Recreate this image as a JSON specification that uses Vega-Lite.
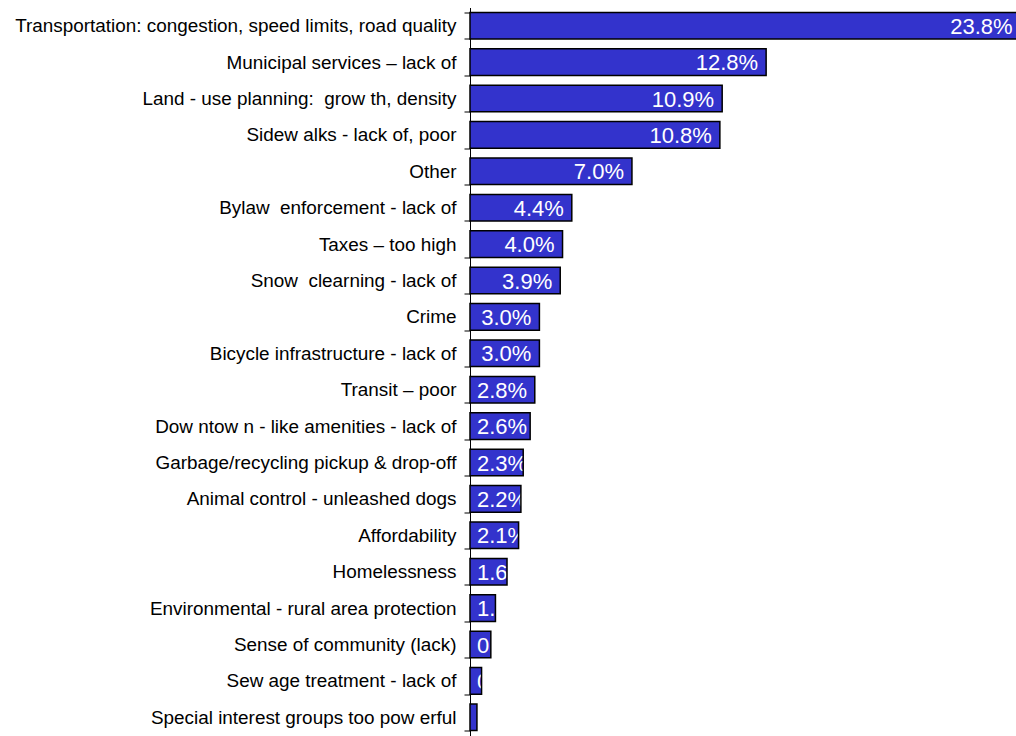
{
  "$schema": "https://vega.github.io/schema/vega-lite/v6.json",
  "autosize": {"type": "none"},
  "padding": {"left": 470, "top": 7.5, "right": 0, "bottom": 0},
  "width": 546,
  "height": 728,
  "background": "white",
  "config": {
    "view": {"stroke": null},
    "font": "Liberation Sans"
  },
  "data": {
    "values": [
      {"issue": "Transportation: congestion, speed limits, road quality", "pct": 0.238},
      {"issue": "Municipal services – lack of", "pct": 0.128},
      {"issue": "Land - use planning: \u00a0grow th, density", "pct": 0.109},
      {"issue": "Sidew alks - lack of, poor", "pct": 0.108},
      {"issue": "Other", "pct": 0.070},
      {"issue": "Bylaw \u00a0enforcement - lack of", "pct": 0.044},
      {"issue": "Taxes – too high", "pct": 0.040},
      {"issue": "Snow \u00a0clearning - lack of", "pct": 0.039},
      {"issue": "Crime", "pct": 0.030},
      {"issue": "Bicycle infrastructure - lack of", "pct": 0.030},
      {"issue": "Transit – poor", "pct": 0.028},
      {"issue": "Dow ntow n - like amenities - lack of", "pct": 0.026},
      {"issue": "Garbage/recycling pickup & drop-off", "pct": 0.023},
      {"issue": "Animal control - unleashed dogs", "pct": 0.022},
      {"issue": "Affordability", "pct": 0.021},
      {"issue": "Homelessness", "pct": 0.016},
      {"issue": "Environmental - rural area protection", "pct": 0.011},
      {"issue": "Sense of community (lack)", "pct": 0.009},
      {"issue": "Sew age treatment - lack of", "pct": 0.005},
      {"issue": "Special interest groups too pow erful", "pct": 0.003}
    ]
  },
  "encoding": {
    "y": {
      "field": "issue",
      "type": "nominal",
      "sort": null,
      "title": null,
      "scale": {"paddingInner": 0.27, "paddingOuter": 0.135},
      "axis": {
        "labelFont": "Liberation Sans",
        "labelFontSize": 18.9,
        "labelColor": "black",
        "labelPadding": 8,
        "labelLimit": 0,
        "tickBand": "extent",
        "tickSize": 6,
        "tickColor": "black",
        "domainColor": "black",
        "domainWidth": 1,
        "grid": false
      }
    },
    "x": {
      "field": "pct",
      "type": "quantitative",
      "scale": {"domain": [0, 0.236], "nice": false},
      "axis": null
    }
  },
  "layer": [
    {
      "mark": {"type": "bar", "fill": "#3333CC", "strokeWidth": 0}
    },
    {
      "transform": [{"filter": "datum.pct >= 0.029"}],
      "mark": {
        "type": "text",
        "align": "right",
        "baseline": "middle",
        "dx": -8,
        "dy": 1,
        "fontSize": 22,
        "color": "white"
      },
      "encoding": {
        "text": {"field": "pct", "type": "quantitative", "format": ".1%"}
      }
    },
    {
      "transform": [{"filter": "datum.pct < 0.029"}],
      "mark": {
        "type": "text",
        "align": "left",
        "baseline": "middle",
        "dx": 7,
        "dy": 1,
        "fontSize": 22,
        "color": "white"
      },
      "encoding": {
        "x": {"datum": 0, "type": "quantitative"},
        "text": {"field": "pct", "type": "quantitative", "format": ".1%"}
      }
    },
    {
      "mark": {"type": "bar", "fill": null, "fillOpacity": 0, "stroke": "black", "strokeWidth": 1.5}
    }
  ]
}
